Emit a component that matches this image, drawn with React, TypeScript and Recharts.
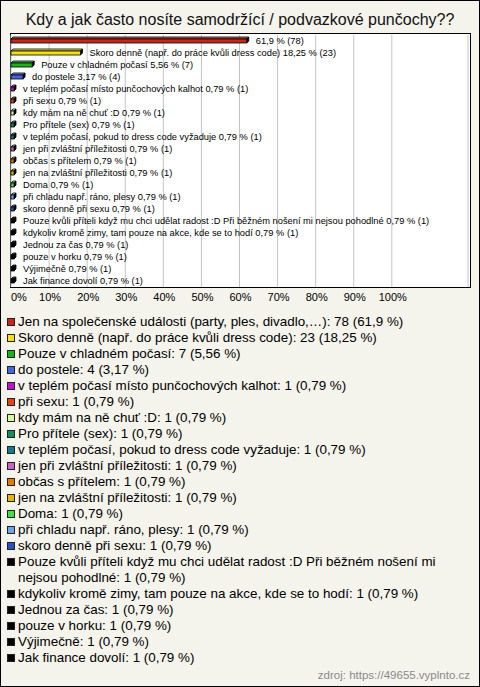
import { Bar, BarChart, CartesianGrid, LabelList, XAxis, YAxis } from "recharts";

const TITLE = "Kdy a jak často nosíte samodržící / podvazkové punčochy??";
const SOURCE = "zdroj: https://49655.vyplnto.cz";

const categories = [
  "Jen na společenské události (party, ples, divadlo,…)",
  "Skoro denně (např. do práce kvůli dress code)",
  "Pouze v chladném počasí",
  "do postele",
  "v teplém počasí místo punčochových kalhot",
  "při sexu",
  "kdy mám na ně chuť :D",
  "Pro přítele (sex)",
  "v teplém počasí, pokud to dress code vyžaduje",
  "jen při zvláštní příležitosti",
  "občas s přítelem",
  "jen na zvláštní příležitosti",
  "Doma",
  "při chladu např. ráno, plesy",
  "skoro denně při sexu",
  "Pouze kvůli příteli když mu chci udělat radost :D Při běžném nošení mi nejsou pohodlné",
  "kdykoliv kromě zimy, tam pouze na akce, kde se to hodí",
  "Jednou za čas",
  "pouze v horku",
  "Výjimečně",
  "Jak finance dovolí",
];

const counts = [78, 23, 7, 4, 1, 1, 1, 1, 1, 1, 1, 1, 1, 1, 1, 1, 1, 1, 1, 1, 1];
const percents = [
  61.9, 18.25, 5.56, 3.17, 0.79, 0.79, 0.79, 0.79, 0.79, 0.79, 0.79, 0.79,
  0.79, 0.79, 0.79, 0.79, 0.79, 0.79, 0.79, 0.79, 0.79,
];

const colors = [
  "#c8261a", "#f2e214", "#18b418", "#4466de", "#c214d2", "#e2441a",
  "#d2f6a2", "#14905e", "#147a8c", "#c464c4", "#e27a08", "#e4b408",
  "#44e044", "#74a2e8", "#2a50c0", "#000000", "#000000", "#000000",
  "#000000", "#000000", "#000000",
];

const xTicks = [0, 10, 20, 30, 40, 50, 60, 70, 80, 90, 100];

const fmt = (v: number) => String(v).replace(".", ",");

const data = categories.map((name, i) => ({
  name,
  value: percents[i],
  count: counts[i],
  color: colors[i],
  // the longest answer's name is left out of its bar label in the original
  label: `${i === 0 ? "" : name + " "}${fmt(percents[i])} % (${counts[i]})`,
}));

const FONT = "Arial, 'Liberation Sans', sans-serif";

function Bar3D(props: any) {
  const { x, y, width, height, fill } = props;
  const d = 2;
  const w = Math.max(width, 1);
  return (
    <g stroke="#000" strokeWidth={0.8}>
      <polygon
        points={`${x},${y} ${x + d},${y - d} ${x + w + d},${y - d} ${x + w},${y}`}
        fill={fill}
        fillOpacity={0.75}
      />
      <polygon
        points={`${x + w},${y} ${x + w + d},${y - d} ${x + w + d},${y + height - d} ${x + w},${y + height}`}
        fill="#000"
      />
      <rect x={x} y={y} width={w} height={height} fill={fill} />
    </g>
  );
}

function BarText(props: any) {
  const { x, y, width, height, value } = props;
  return (
    <text
      x={x + width + 9}
      y={y + height / 2}
      dy={3}
      fontSize={9.3}
      fontFamily={FONT}
      fill="#000"
    >
      {value}
    </text>
  );
}

function PctTick(props: any) {
  const { x, y, payload } = props;
  const first = payload.value === 0;
  return (
    <text
      x={first ? x : x + 1}
      y={y + 6}
      textAnchor={first ? "start" : "middle"}
      fontSize={11}
      fontFamily={FONT}
      fill="#000"
    >
      {`${payload.value}%`}
    </text>
  );
}

export default function App() {
  return (
    <div
      style={{
        position: "absolute",
        left: 0,
        top: 0,
        width: 480,
        height: 687,
        background: "#f4f3ec",
        fontFamily: FONT,
        overflow: "hidden",
      }}
    >
      <div
        style={{
          position: "absolute",
          top: 10,
          left: 0,
          width: 480,
          textAlign: "center",
          fontSize: 16,
          lineHeight: "20px",
          color: "#111",
        }}
      >
        {TITLE}
      </div>

      <div
        style={{
          position: "absolute",
          left: 10,
          top: 33,
          width: 461,
          height: 255,
          boxSizing: "border-box",
          border: "1px solid #000",
          background: "#fff",
        }}
      />

      <div style={{ position: "absolute", left: 0, top: 0 }}>
        <BarChart
          layout="vertical"
          width={480}
          height={310}
          data={data}
          barSize={4}
          margin={{ top: 35, right: 12, bottom: 0, left: 11 }}
        >
          <CartesianGrid horizontal={false} stroke="#c4c4c4" />
          <XAxis
            type="number"
            domain={[0, 120]}
            ticks={xTicks}
            axisLine={false}
            tickLine={false}
            height={23}
            tick={<PctTick />}
            interval={0}
          />
          <YAxis type="category" dataKey="name" hide />
          <Bar
            dataKey="value"
            shape={(p: any) => <Bar3D {...p} fill={p.payload.color} />}
            isAnimationActive={false}
          >
            <LabelList dataKey="label" content={<BarText />} />
          </Bar>
        </BarChart>
      </div>

      <div
        style={{
          position: "absolute",
          left: 7,
          top: 314,
          width: 450,
          fontSize: 13.4,
          lineHeight: "16px",
          color: "#000",
        }}
      >
        {data.map((d) => (
          <div key={d.name} style={{ display: "flex", alignItems: "flex-start" }}>
            <span
              style={{
                flex: "none",
                width: 8,
                height: 8,
                marginTop: 4,
                marginRight: 3,
                boxSizing: "border-box",
                border: "1px solid #222",
                background: d.color,
              }}
            />
            <span>{`${d.name}: ${d.count} (${fmt(d.value)} %)`}</span>
          </div>
        ))}
      </div>

      <div
        style={{
          position: "absolute",
          right: 10,
          top: 669,
          fontSize: 11.5,
          color: "#8a8a8a",
        }}
      >
        {SOURCE}
      </div>

      <div
        style={{
          position: "absolute",
          left: 0,
          top: 0,
          width: 480,
          height: 687,
          boxSizing: "border-box",
          border: "1px solid #000",
          pointerEvents: "none",
        }}
      />
    </div>
  );
}
